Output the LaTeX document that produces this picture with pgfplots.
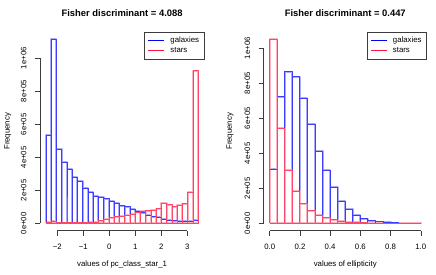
\documentclass[border=0pt]{standalone}
\usepackage{pgfplots}
\usepackage{pgfplotstable}
\pgfplotsset{compat=1.18}
\usepackage{fontspec}
\setmainfont{Liberation Sans}
\definecolor{hblue}{RGB}{0,0,255}
\definecolor{hred}{RGB}{255,20,60}
\definecolor{bdark}{RGB}{60,60,255}
\definecolor{blight}{RGB}{170,170,255}
\definecolor{rdark}{RGB}{255,70,105}
\definecolor{rlight}{RGB}{255,175,190}
\definecolor{axgray}{RGB}{60,60,60}
\newcommand{\tf}{\fontsize{7.8}{9}\selectfont}
% histogram outlines: for each bin (left edge, height) -> (right edge, height) -> (right edge, 0)
\pgfplotstableread{
x y
-2.435 0
-2.435 5.35
-2.233 5.35
-2.233 0
-2.233 11.15
-2.031 11.15
-2.031 0
-2.031 4.48
-1.829 4.48
-1.829 0
-1.829 3.70
-1.627 3.70
-1.627 0
-1.627 3.27
-1.426 3.27
-1.426 0
-1.426 2.79
-1.224 2.79
-1.224 0
-1.224 2.55
-1.022 2.55
-1.022 0
-1.022 2.12
-0.820 2.12
-0.820 0
-0.820 1.90
-0.618 1.90
-0.618 0
-0.618 1.64
-0.416 1.64
-0.416 0
-0.416 1.58
-0.214 1.58
-0.214 0
-0.214 1.49
-0.012 1.49
-0.012 0
-0.012 1.35
0.190 1.35
0.190 0
0.190 1.21
0.392 1.21
0.392 0
0.392 1.08
0.594 1.08
0.594 0
0.594 1.00
0.795 1.00
0.795 0
0.795 0.85
0.997 0.85
0.997 0
0.997 0.75
1.199 0.75
1.199 0
1.199 0.64
1.401 0.64
1.401 0
1.401 0.50
1.603 0.50
1.603 0
1.603 0.40
1.805 0.40
1.805 0
1.805 0.36
2.007 0.36
2.007 0
2.007 0.26
2.209 0.26
2.209 0
2.209 0.20
2.411 0.20
2.411 0
2.411 0.16
2.613 0.16
2.613 0
2.613 0.14
2.815 0.14
2.815 0
2.815 0.14
3.016 0.14
3.016 0
3.016 0.14
3.218 0.14
3.218 0
3.218 0.20
3.420 0.20
3.420 0
-2.435 0
}\lblue
\pgfplotstableread{
x y
-2.435 0
-2.435 0.06
-2.233 0.06
-2.233 0
-2.233 0.12
-2.031 0.12
-2.031 0
-2.031 0.05
-1.829 0.05
-1.829 0
-1.829 0.03
-1.627 0.03
-1.627 0
-1.627 0.03
-1.426 0.03
-1.426 0
-1.426 0.03
-1.224 0.03
-1.224 0
-1.224 0.04
-1.022 0.04
-1.022 0
-1.022 0.05
-0.820 0.05
-0.820 0
-0.820 0.06
-0.618 0.06
-0.618 0
-0.618 0.08
-0.416 0.08
-0.416 0
-0.416 0.16
-0.214 0.16
-0.214 0
-0.214 0.26
-0.012 0.26
-0.012 0
-0.012 0.34
0.190 0.34
0.190 0
0.190 0.40
0.392 0.40
0.392 0
0.392 0.44
0.594 0.44
0.594 0
0.594 0.48
0.795 0.48
0.795 0
0.795 0.54
0.997 0.54
0.997 0
0.997 0.67
1.199 0.67
1.199 0
1.199 0.73
1.401 0.73
1.401 0
1.401 0.76
1.603 0.76
1.603 0
1.603 0.80
1.805 0.80
1.805 0
1.805 0.89
2.007 0.89
2.007 0
2.007 1.21
2.209 1.21
2.209 0
2.209 1.13
2.411 1.13
2.411 0
2.411 1.01
2.613 1.01
2.613 0
2.613 1.09
2.815 1.09
2.815 0
2.815 1.19
3.016 1.19
3.016 0
3.016 1.88
3.218 1.88
3.218 0
3.218 9.25
3.420 9.25
3.420 0
-2.435 0
}\lred
\pgfplotstableread{
x y
0.00 0
0.00 3.10
0.05 3.10
0.05 0
0.05 7.23
0.10 7.23
0.10 0
0.10 8.66
0.15 8.66
0.15 0
0.15 8.38
0.20 8.38
0.20 0
0.20 7.14
0.25 7.14
0.25 0
0.25 5.66
0.30 5.66
0.30 0
0.30 4.11
0.35 4.11
0.35 0
0.35 3.03
0.40 3.03
0.40 0
0.40 2.06
0.45 2.06
0.45 0
0.45 1.26
0.50 1.26
0.50 0
0.50 0.81
0.55 0.81
0.55 0
0.55 0.46
0.60 0.46
0.60 0
0.60 0.27
0.65 0.27
0.65 0
0.65 0.16
0.70 0.16
0.70 0
0.70 0.08
0.75 0.08
0.75 0
0.75 0.05
0.80 0.05
0.80 0
0.80 0.03
0.85 0.03
0.85 0
0.85 0.015
0.90 0.015
0.90 0
0.90 0.008
0.95 0.008
0.95 0
0.95 0.004
1.00 0.004
1.00 0
0.00 0
}\rblue
\pgfplotstableread{
x y
0.00 0
0.00 10.51
0.05 10.51
0.05 0
0.05 5.43
0.10 5.43
0.10 0
0.10 3.03
0.15 3.03
0.15 0
0.15 1.84
0.20 1.84
0.20 0
0.20 1.13
0.25 1.13
0.25 0
0.25 0.73
0.30 0.73
0.30 0
0.30 0.46
0.35 0.46
0.35 0
0.35 0.31
0.40 0.31
0.40 0
0.40 0.20
0.45 0.20
0.45 0
0.45 0.13
0.50 0.13
0.50 0
0.50 0.07
0.55 0.07
0.55 0
0.55 0.05
0.60 0.05
0.60 0
0.60 0.03
0.65 0.03
0.65 0
0.65 0.02
0.70 0.02
0.70 0
0.70 0.01
0.75 0.01
0.75 0
0.75 0.01
0.80 0.01
0.80 0
0.80 0.005
0.85 0.005
0.85 0
0.85 0.003
0.90 0.003
0.90 0
0.90 0.002
0.95 0.002
0.95 0
0.95 0.001
1.00 0.001
1.00 0
0.00 0
}\rred
\pgfplotsset{
  rstyle/.style={
    scale only axis, anchor=south west,
    axis lines*=left,
    axis line style={draw=none},
    tick align=outside,
    major tick length=5pt,
    every tick/.style={axgray, line width=0.5pt},
    tick label style={font=\tf},
    xticklabel style={yshift=-5pt},
    ytick={0,2,4,6,8,10},
    yticklabels={0e+00,2e+05,4e+05,6e+05,8e+05,1e+06},
    yticklabel style={rotate=90, anchor=south, yshift=5pt},
    minor tick num=0,
    every axis title/.style={font=\bfseries\fontsize{9.4}{11}\selectfont, at={(0.5,1)}, anchor=center, yshift=18.9pt},
    xlabel style={font=\tf, at={(axis description cs:0.5,-0.171)}, anchor=center},
    ylabel style={font=\tf, anchor=center},
    ylabel={Frequency},
    legend style={at={(axis description cs:1,1)}, anchor=north east, draw=axgray, line width=0.5pt, fill=white, font=\tf, inner xsep=3.5pt, inner ysep=3.5pt, row sep=0pt, column sep=4pt, nodes={inner sep=1.5pt}},
    legend cell align=left,
    legend image code/.code={\draw[#1, line width=1.1pt] (0pt,0pt) -- (16pt,0pt);},
    clip=false,
  },
  histbase/.style={sharp plot, no marks, line join=bevel, forget plot},
  bl/.style={histbase, color=blight, line width=2pt},
  bd/.style={histbase, color=bdark, line width=0.9pt},
  rl/.style={histbase, color=rlight, line width=2pt},
  rd/.style={histbase, color=rdark, line width=0.9pt},
}
\begin{document}
\begin{tikzpicture}[x=1pt,y=1pt]
\useasboundingbox (0,0) rectangle (436,274);
% ---------------- left panel ----------------
\begin{axis}[rstyle,
  at={(39.9pt,43.3pt)}, width=164.4pt, height=198.8pt,
  xmin=-2.669, xmax=3.654, ymin=-0.446, ymax=11.596,
  xtick={-2,-1,0,1,2,3},
  xticklabels={−2,−1,0,1,2,3},
  title={Fisher discriminant = 4.088},
  xlabel={values of pc\_class\_star\_1},
  ylabel style={at={(axis description cs:-0.196,0.5)}},
]
\addplot[bl] table[x=x,y=y] {\lblue};
\addplot[rl] table[x=x,y=y] {\lred};
\addplot[bd] table[x=x,y=y] {\lblue};
\addplot[rd] table[x=x,y=y] {\lred};
\addlegendimage{hblue}
\addlegendentry{galaxies}
\addlegendimage{hred}
\addlegendentry{stars}
\draw[axgray, line width=0.5pt] (axis cs:-2,-0.446) -- (axis cs:3,-0.446);
\draw[axgray, line width=0.5pt] (axis cs:-2.669,0) -- (axis cs:-2.669,10);
\end{axis}
% ---------------- right panel ----------------
\begin{axis}[rstyle,
  at={(263.7pt,43.3pt)}, width=163.1pt, height=198.8pt,
  xmin=-0.04, xmax=1.04, ymin=-0.42, ymax=10.93,
  xtick={0,0.2,0.4,0.6,0.8,1.0},
  xticklabels={0.0,0.2,0.4,0.6,0.8,1.0},
  title={Fisher discriminant = 0.447},
  xlabel={values of ellipticity},
  ylabel style={at={(axis description cs:-0.207,0.5)}},
]
\addplot[bl] table[x=x,y=y] {\rblue};
\addplot[rl] table[x=x,y=y] {\rred};
\addplot[bd] table[x=x,y=y] {\rblue};
\addplot[rd] table[x=x,y=y] {\rred};
\addlegendimage{hblue}
\addlegendentry{galaxies}
\addlegendimage{hred}
\addlegendentry{stars}
\draw[axgray, line width=0.5pt] (axis cs:0,-0.42) -- (axis cs:1,-0.42);
\draw[axgray, line width=0.5pt] (axis cs:-0.04,0) -- (axis cs:-0.04,10);
\end{axis}
\end{tikzpicture}
\end{document}
